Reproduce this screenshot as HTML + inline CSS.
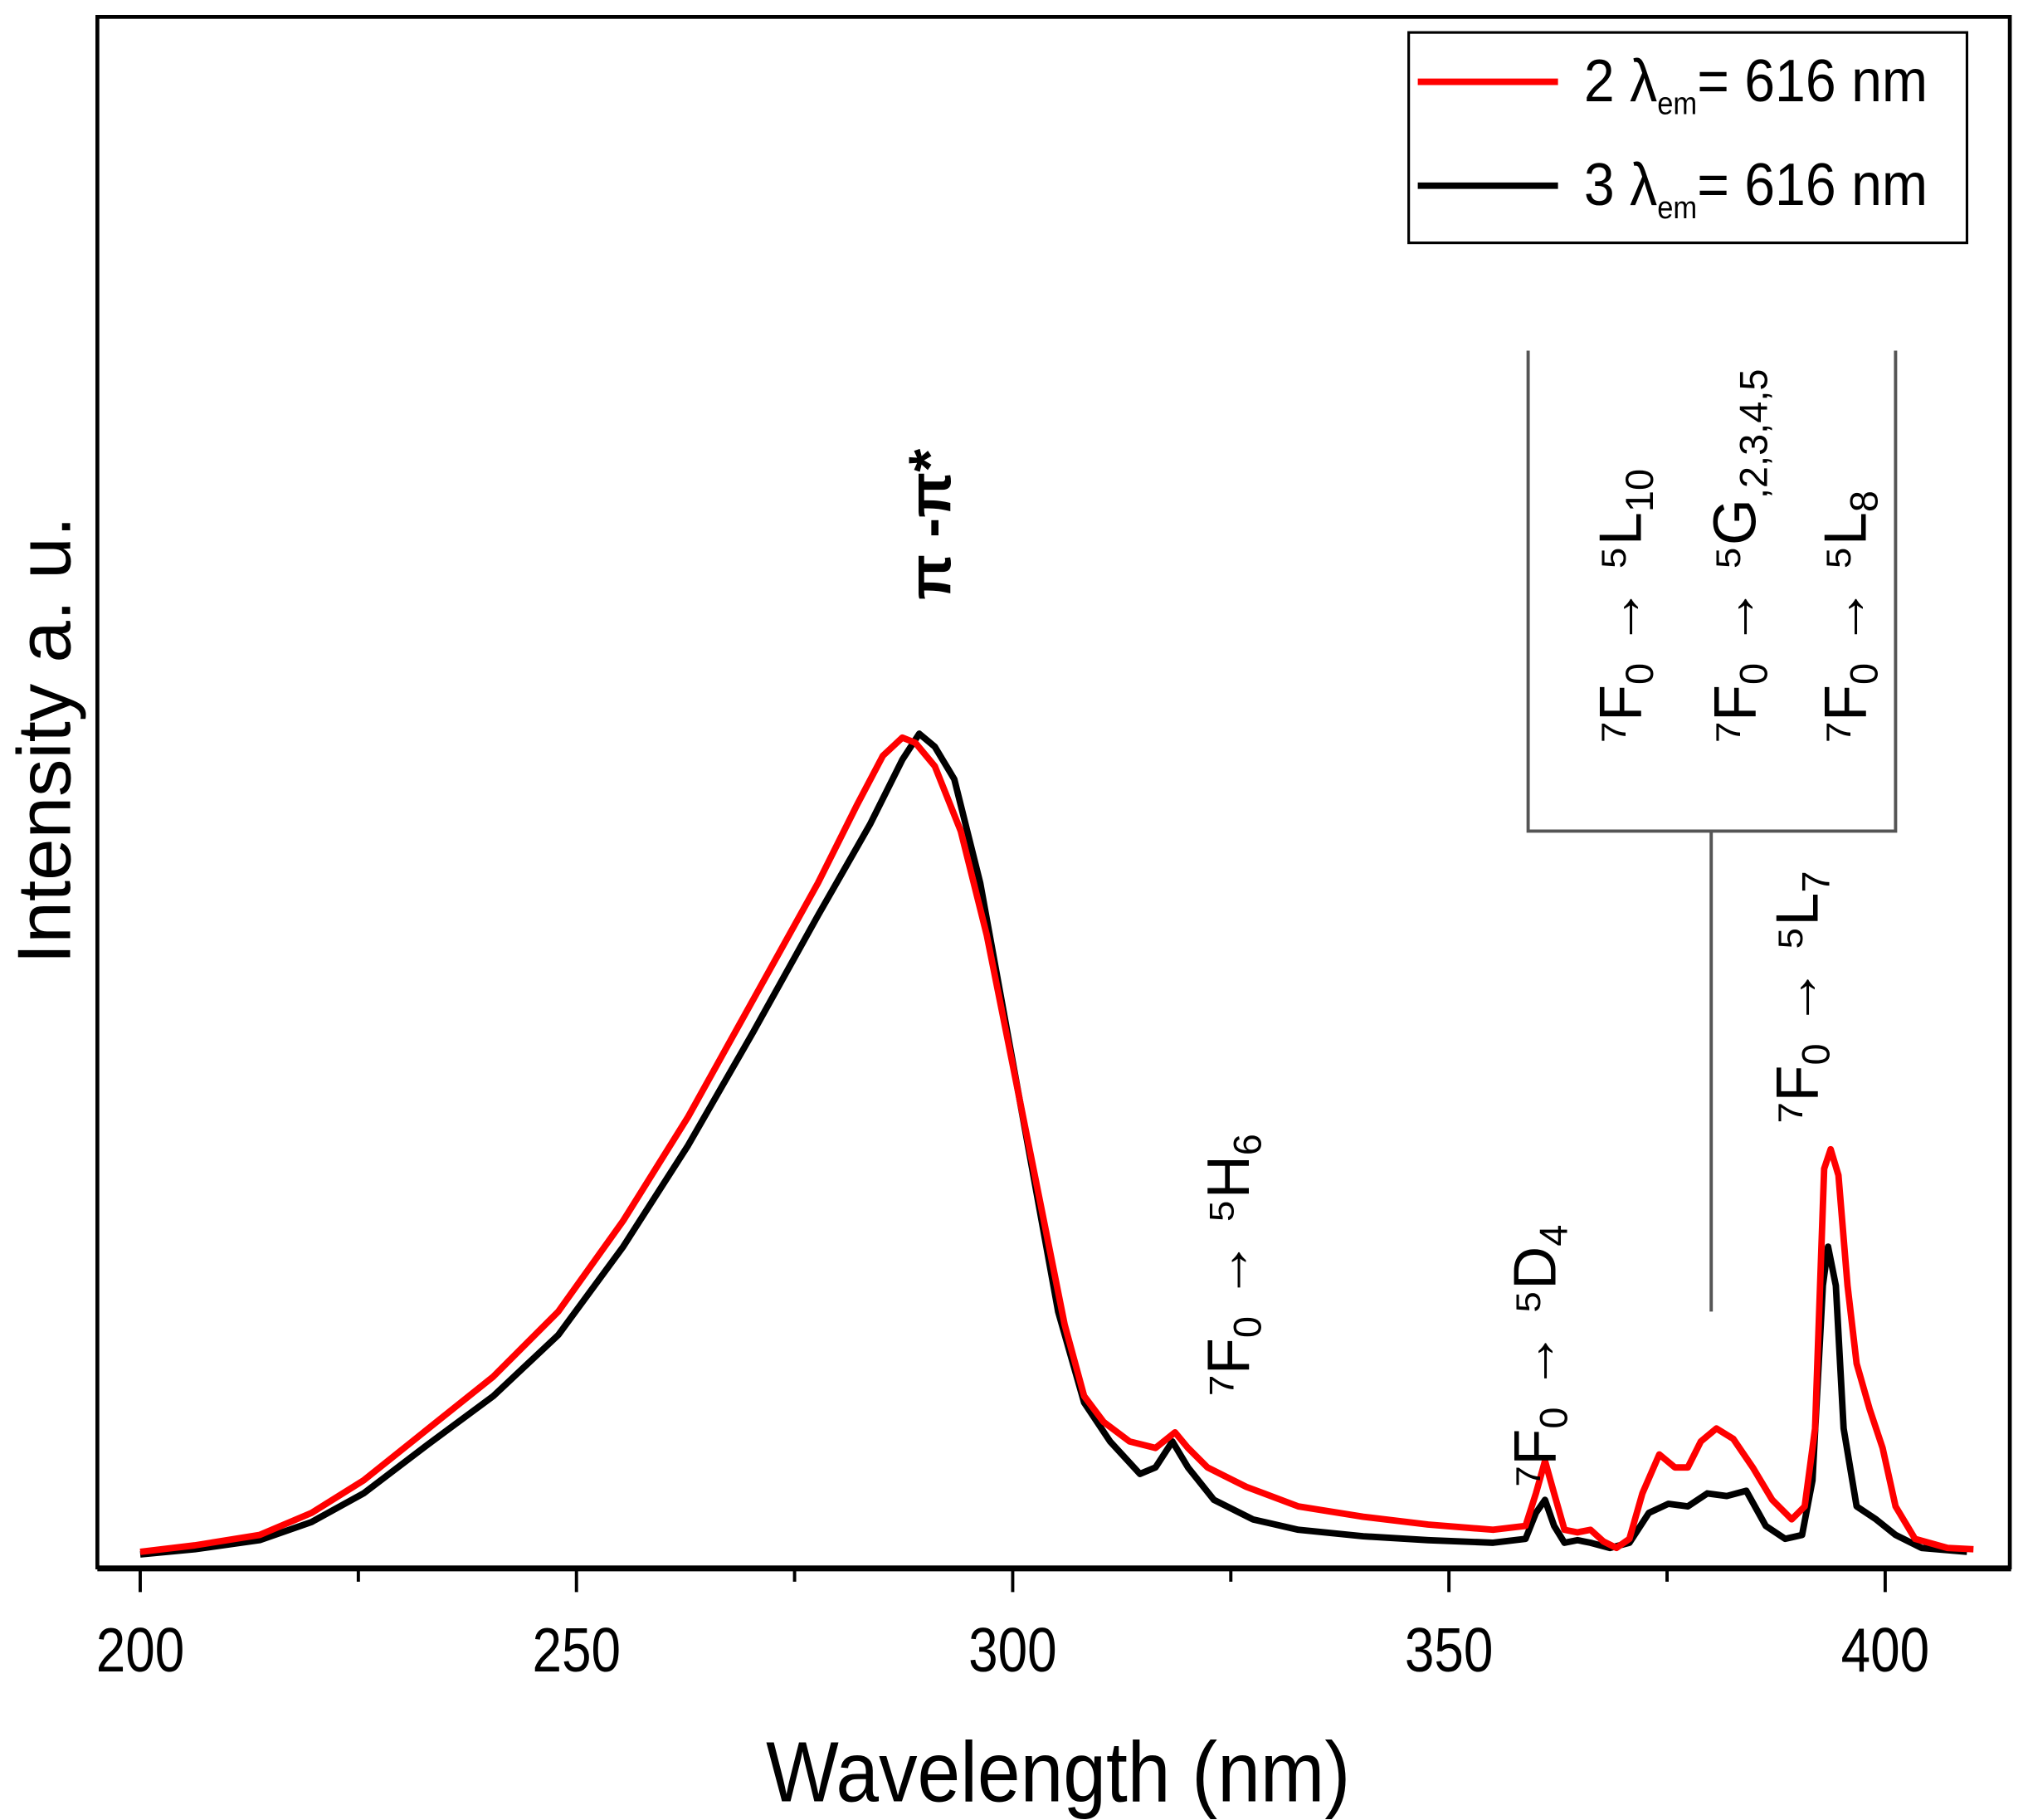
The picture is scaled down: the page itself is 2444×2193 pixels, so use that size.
<!DOCTYPE html>
<html><head><style>html,body{margin:0;padding:0;background:#fff}svg{display:block}</style></head>
<body>
<svg width="2444" height="2193" viewBox="0 0 1562 1401.5" preserveAspectRatio="none" xmlns="http://www.w3.org/2000/svg" font-family="Liberation Sans, sans-serif">
<rect x="75" y="13" width="1473" height="1194" fill="none" stroke="#000" stroke-width="3"/>
<line x1="75" y1="1208" x2="1549" y2="1208" stroke="#000" stroke-width="4"/>
<g stroke="#000" stroke-width="2.5">
<line x1="108" y1="1208" x2="108" y2="1226"/><line x1="276" y1="1208" x2="276" y2="1218"/>
<line x1="444" y1="1208" x2="444" y2="1226"/><line x1="612" y1="1208" x2="612" y2="1218"/>
<line x1="780" y1="1208" x2="780" y2="1226"/><line x1="948" y1="1208" x2="948" y2="1218"/>
<line x1="1116" y1="1208" x2="1116" y2="1226"/><line x1="1284" y1="1208" x2="1284" y2="1218"/>
<line x1="1452" y1="1208" x2="1452" y2="1226"/>
</g>
<g font-size="48" text-anchor="middle" fill="#000">
<text transform="translate(108,1287) scale(0.85,1)">200</text><text transform="translate(444,1287) scale(0.85,1)">250</text><text transform="translate(780,1287) scale(0.85,1)">300</text><text transform="translate(1116,1287) scale(0.85,1)">350</text><text transform="translate(1452,1287) scale(0.85,1)">400</text>
</g>
<text transform="translate(815,1387) scale(0.9,1)" font-size="66" text-anchor="middle">Wavelength (nm)</text>
<text transform="translate(54,570) rotate(-90)" font-size="58" text-anchor="middle">Intensity a. u.</text>
<polyline fill="none" stroke="#000" stroke-width="5" stroke-linejoin="round" points="108,1197 150,1193 200,1186 240,1172 280,1150 330,1112 380,1075 430,1028 480,960 530,882 580,795 630,705 670,635 695,585 708,565 720,575 735,600 755,680 775,790 795,900 815,1010 835,1080 855,1110 878,1135 890,1130 903,1110 915,1130 935,1155 965,1170 1000,1178 1050,1183 1100,1186 1150,1188 1175,1185 1183,1165 1190,1155 1197,1175 1205,1188 1215,1186 1225,1188 1240,1192 1255,1188 1270,1165 1285,1158 1300,1160 1315,1150 1330,1152 1345,1148 1360,1175 1375,1185 1388,1182 1396,1140 1404,990 1408,960 1414,990 1420,1100 1430,1160 1445,1170 1460,1182 1480,1192 1515,1195"/>
<polyline fill="none" stroke="#f00" stroke-width="5" stroke-linejoin="round" points="108,1195 150,1190 200,1182 240,1165 280,1140 330,1100 380,1060 430,1010 480,940 530,860 580,770 630,680 660,620 680,582 695,568 705,572 720,590 740,640 760,720 780,820 800,920 820,1020 835,1075 850,1095 870,1110 890,1115 905,1103 915,1115 930,1130 960,1145 1000,1160 1050,1168 1100,1174 1150,1178 1175,1175 1183,1150 1190,1125 1197,1150 1205,1178 1215,1180 1225,1178 1235,1187 1245,1192 1255,1185 1265,1150 1278,1120 1290,1130 1300,1130 1310,1110 1322,1100 1335,1108 1350,1130 1365,1155 1380,1170 1390,1160 1398,1100 1405,900 1410,885 1416,905 1423,990 1430,1050 1440,1085 1450,1115 1460,1160 1475,1185 1500,1192 1520,1193"/>
<rect x="1085" y="25" width="430" height="162" fill="#fff" stroke="#000" stroke-width="2"/>
<line x1="1092" y1="63" x2="1200" y2="63" stroke="#f00" stroke-width="5"/>
<line x1="1092" y1="143" x2="1200" y2="143" stroke="#000" stroke-width="5"/>
<g font-size="46" fill="#000">
<text transform="translate(1220,78) scale(0.92,1)">2 λ<tspan font-size="24" dy="10">em</tspan><tspan dy="-10">= 616 nm</tspan></text>
<text transform="translate(1220,158) scale(0.92,1)">3 λ<tspan font-size="24" dy="10">em</tspan><tspan dy="-10">= 616 nm</tspan></text>
</g>
<g stroke="#555" stroke-width="2.5" fill="none">
<polyline points="1177,270 1177,640 1460,640 1460,270"/>
<line x1="1318" y1="640" x2="1318" y2="1010"/>
</g>
<g font-size="46" fill="#000">
<text transform="translate(732,462) rotate(-90)" font-weight="bold">π -π*</text>
<text transform="translate(962,1075) rotate(-90)">⁷F<tspan font-size="30" dy="9">0</tspan><tspan dy="-9"> → ⁵H</tspan><tspan font-size="30" dy="9">6</tspan></text>
<text transform="translate(1198,1145) rotate(-90)">⁷F<tspan font-size="30" dy="9">0</tspan><tspan dy="-9"> → ⁵D</tspan><tspan font-size="30" dy="9">4</tspan></text>
<text transform="translate(1264,572) rotate(-90)">⁷F<tspan font-size="30" dy="9">0</tspan><tspan dy="-9"> → ⁵L</tspan><tspan font-size="30" dy="9">10</tspan></text>
<text transform="translate(1352,572) rotate(-90)">⁷F<tspan font-size="30" dy="9">0</tspan><tspan dy="-9"> → ⁵G</tspan><tspan font-size="30" dy="9">,2,3,4,5</tspan></text>
<text transform="translate(1437,572) rotate(-90)">⁷F<tspan font-size="30" dy="9">0</tspan><tspan dy="-9"> → ⁵L</tspan><tspan font-size="30" dy="9">8</tspan></text>
<text transform="translate(1400,865) rotate(-90)">⁷F<tspan font-size="30" dy="9">0</tspan><tspan dy="-9"> → ⁵L</tspan><tspan font-size="30" dy="9">7</tspan></text>
</g>
</svg>
</body></html>
